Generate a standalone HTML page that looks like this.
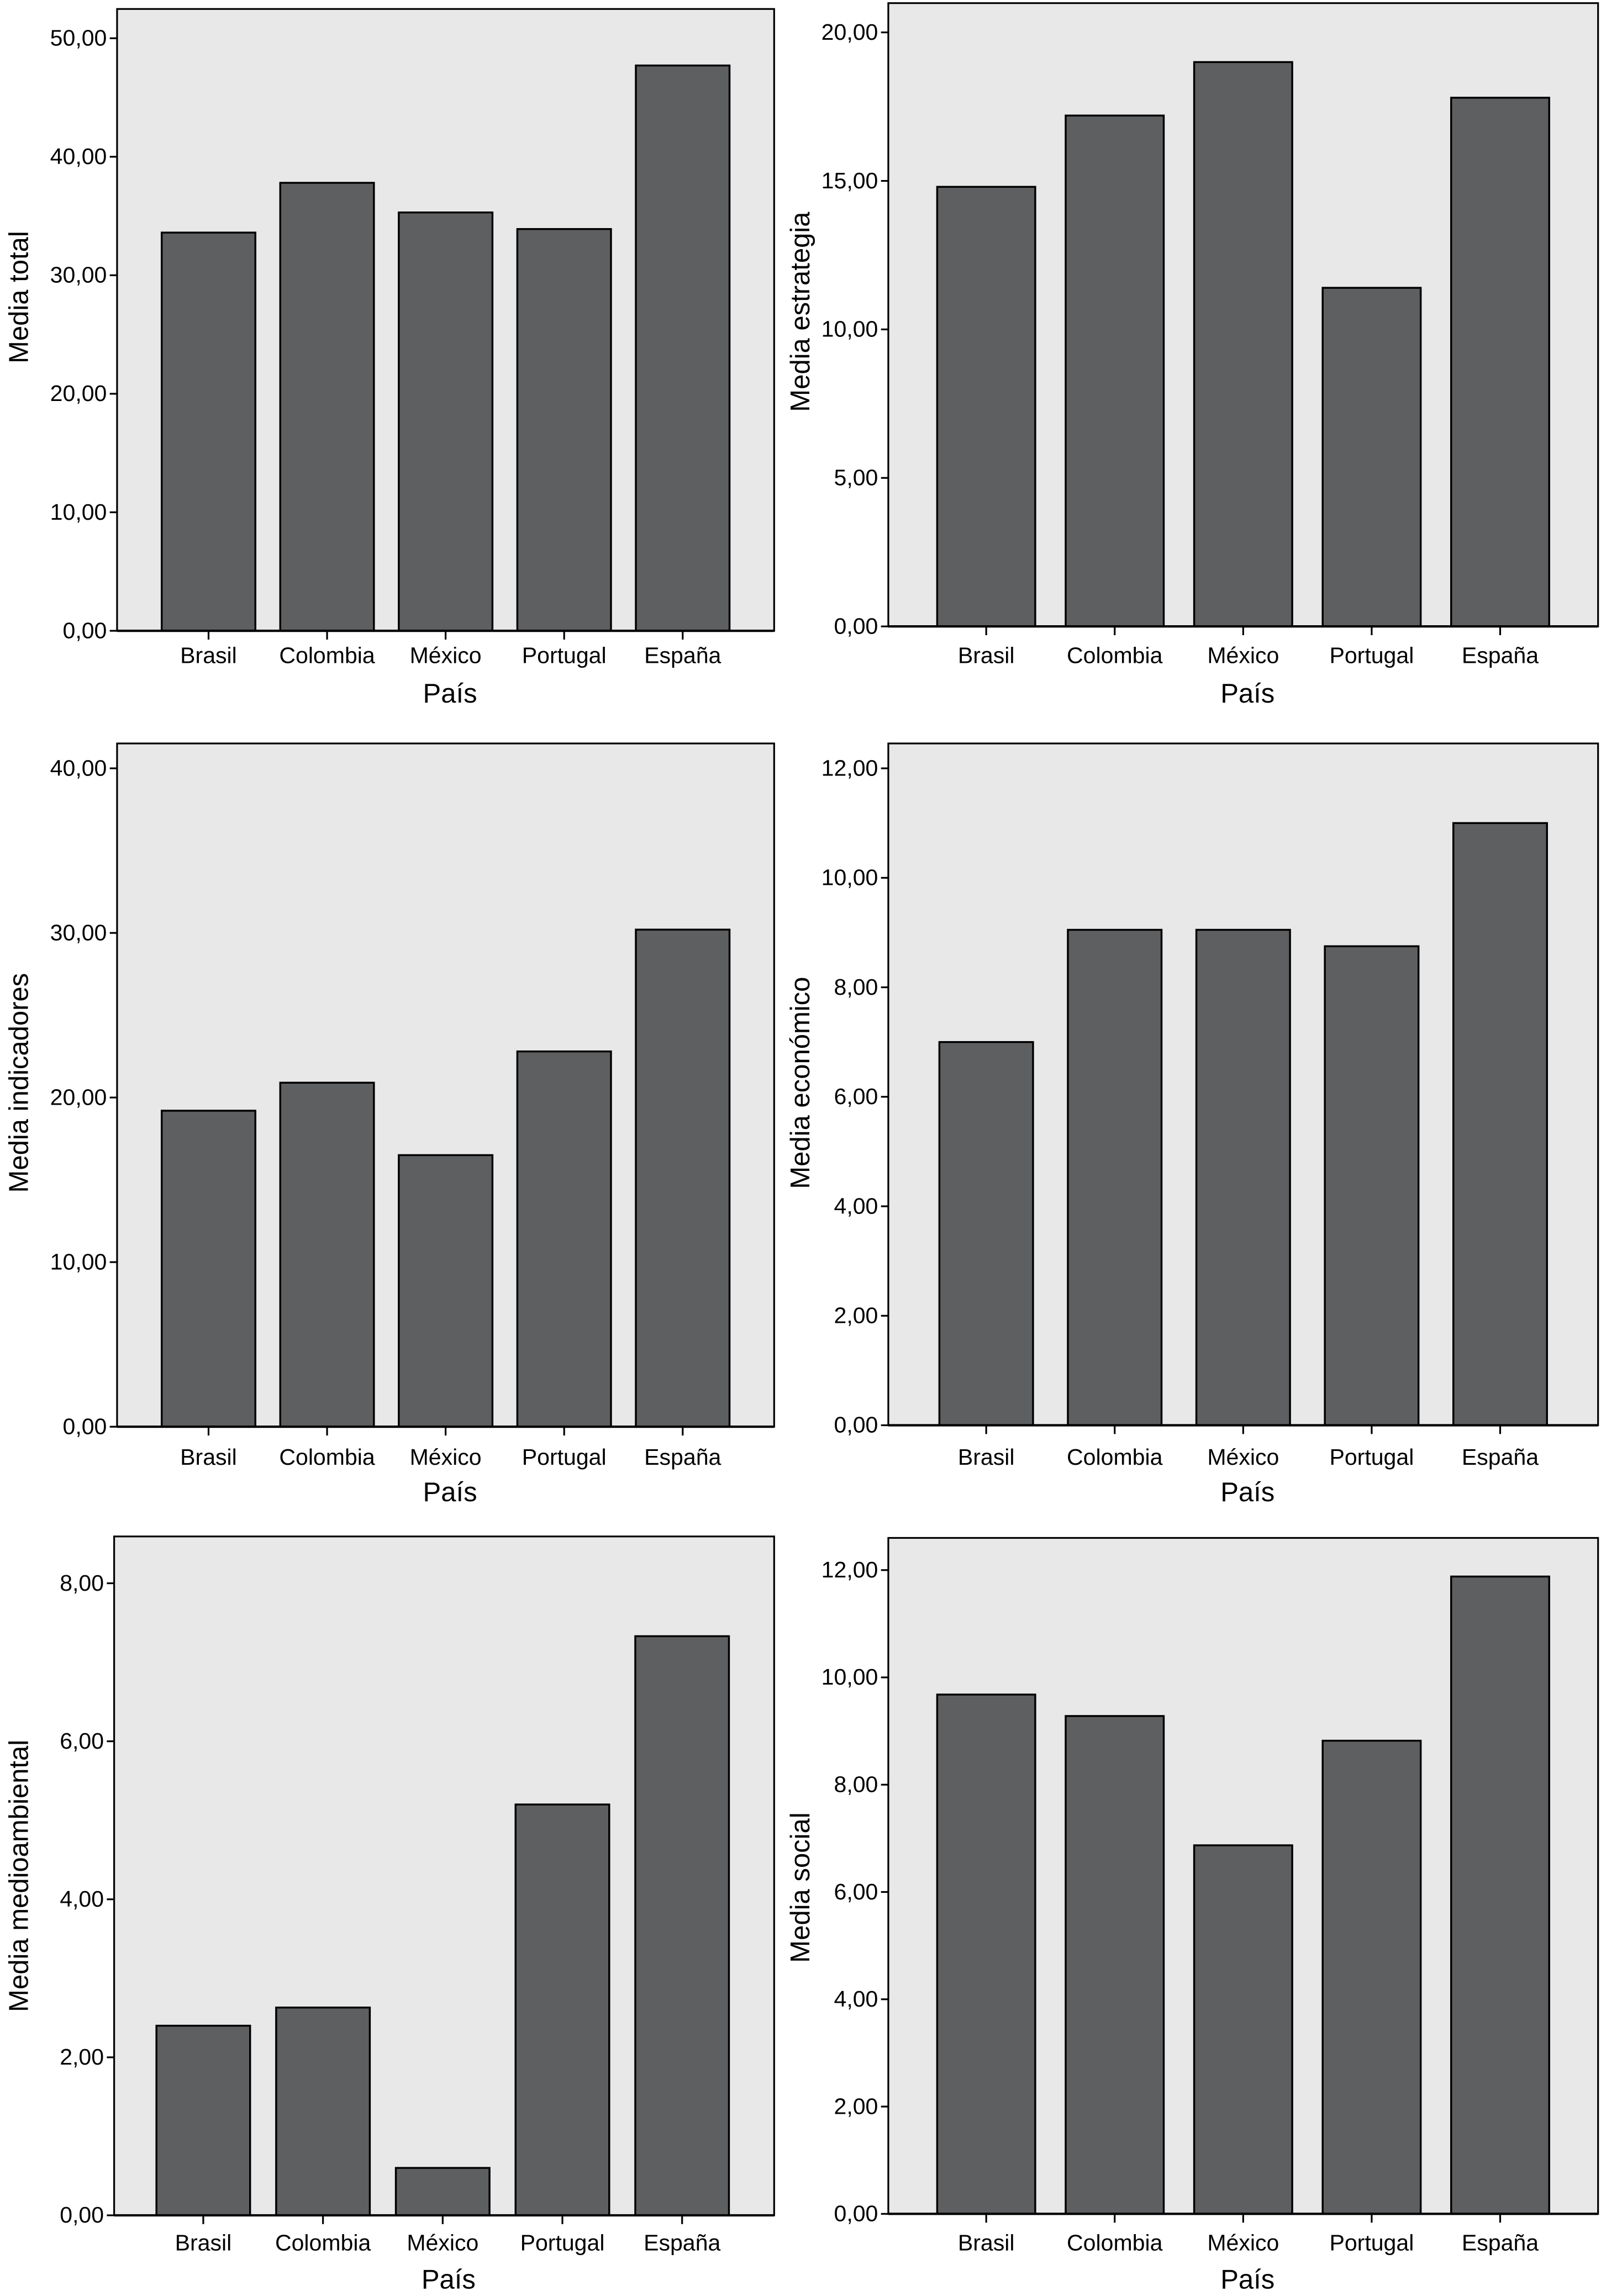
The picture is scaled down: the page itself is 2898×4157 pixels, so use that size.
<!DOCTYPE html>
<html><head><meta charset="utf-8"><style>
html,body{margin:0;padding:0;background:#fff;}
svg{display:block;}
text{font-family:"Liberation Sans",Arial,sans-serif;fill:#000;}
</style></head>
<body>
<svg id="fig" width="2898" height="4157" viewBox="0 0 1094 1569" xmlns="http://www.w3.org/2000/svg"></svg>
<script>
const categories = ["Brasil","Colombia","México","Portugal","España"];
const totalValues = [33.6, 37.8, 35.3, 33.9, 47.7];
const estrategiaValues = [14.8, 17.2, 19.0, 11.4, 17.8];
const indicadoresValues = [19.2, 20.9, 16.5, 22.8, 30.2];
const economicoValues = [7.0, 9.05, 9.05, 8.75, 11.0];
const medioambientalValues = [2.4, 2.63, 0.6, 5.2, 7.33];
const socialValues = [9.68, 9.28, 6.87, 8.82, 11.88];
const totalTicks = [0,10,20,30,40,50];
const estrategiaTicks = [0,5,10,15,20];
const indicadoresTicks = [0,10,20,30,40];
const economicoTicks = [0,2,4,6,8,10,12];
const medioambientalTicks = [0,2,4,6,8];
const socialTicks = [0,2,4,6,8,10,12];

const panels = [
 {name:"total", title:"Media total", values:totalValues, ticks:totalTicks, box:[80,6,529,431], topVal:50, topY:26, band:[102,507], bw:64, tx:12, ty:203, laby:447, py:473},
 {name:"estrategia", title:"Media estrategia", values:estrategiaValues, ticks:estrategiaTicks, box:[607,2,1092,428], topVal:20, topY:22, band:[630,1069], bw:67, tx:546, ty:213, laby:447, py:473},
 {name:"indicadores", title:"Media indicadores", values:indicadoresValues, ticks:indicadoresTicks, box:[80,508,529,975], topVal:40, topY:525, band:[102,507], bw:64, tx:12, ty:740, laby:995, py:1019},
 {name:"economico", title:"Media económico", values:economicoValues, ticks:economicoTicks, box:[607,508,1092,974], topVal:12, topY:525, band:[630,1069], bw:64, tx:546, ty:740, laby:995, py:1019},
 {name:"medioambiental", title:"Media medioambiental", values:medioambientalValues, ticks:medioambientalTicks, box:[78,1050,529,1514], topVal:8, topY:1082, band:[98,507], bw:64, tx:12, ty:1282, laby:1532, py:1557},
 {name:"social", title:"Media social", values:socialValues, ticks:socialTicks, box:[607,1051,1092,1513], topVal:12, topY:1073, band:[630,1069], bw:67, tx:546, ty:1290, laby:1532, py:1557}
];
const NS="http://www.w3.org/2000/svg";
const svg=document.getElementById('fig');
function mk(tag,attrs,parent){const e=document.createElementNS(NS,tag);for(const k in attrs)e.setAttribute(k,attrs[k]);parent.appendChild(e);return e;}
function fmt(v){return v.toFixed(2).replace('.',',');}
panels.forEach(p=>{
  const g=mk('g',{},svg);
  
  
  const [x0,y0,x1,y1]=p.box;
  const bg=mk('rect',{x:x0,y:y0,width:x1-x0,height:y1-y0,fill:'#e8e8e8',stroke:'#000','stroke-width':1.2},g);
  
  
  const yScale=v=>y1-(v/p.topVal)*(y1-p.topY);
  const step=(p.band[1]-p.band[0])/categories.length;
  const xCenter=i=>p.band[0]+step*(i+0.5);
  p.ticks.forEach(t=>{
    const y=yScale(t);
    const tk=mk('line',{x1:x0-5,x2:x0,y1:y,y2:y,stroke:'#000','stroke-width':1.2},g);
    
    
    const tl=mk('text',{x:x0-7,y:y+5,'font-size':15.5,'text-anchor':'end'},g);
    tl.textContent=fmt(t);
    
    
  });
  p.values.forEach((v,i)=>{
    const cx=xCenter(i);
    const b=mk('rect',{x:cx-p.bw/2,y:yScale(v),width:p.bw,height:y1-yScale(v),fill:'#5e5f61',stroke:'#000','stroke-width':1.3},g);
    
    
    const xt=mk('line',{x1:cx,x2:cx,y1:y1,y2:y1+6,stroke:'#000','stroke-width':1.2},g);
    
    
    const cl=mk('text',{x:cx,y:p.laby+6,'font-size':15.5,'text-anchor':'middle'},g);
    cl.textContent=categories[i];
    
    
  });
  const axl=mk('line',{x1:x0,x2:x1,y1:y1,y2:y1,stroke:'#000','stroke-width':1.6},g);
  
  
  const xt=mk('text',{x:(x0+x1)/2+3,y:p.py+7,'font-size':18.5,'text-anchor':'middle'},g);
  xt.textContent='País';
  
  
  const yt=mk('text',{x:0,y:0,'font-size':18.5,'text-anchor':'middle',transform:`translate(${p.tx+7},${p.ty}) rotate(-90)`},g);
  yt.textContent=p.title;
  
  
});
</script>
</body></html>
